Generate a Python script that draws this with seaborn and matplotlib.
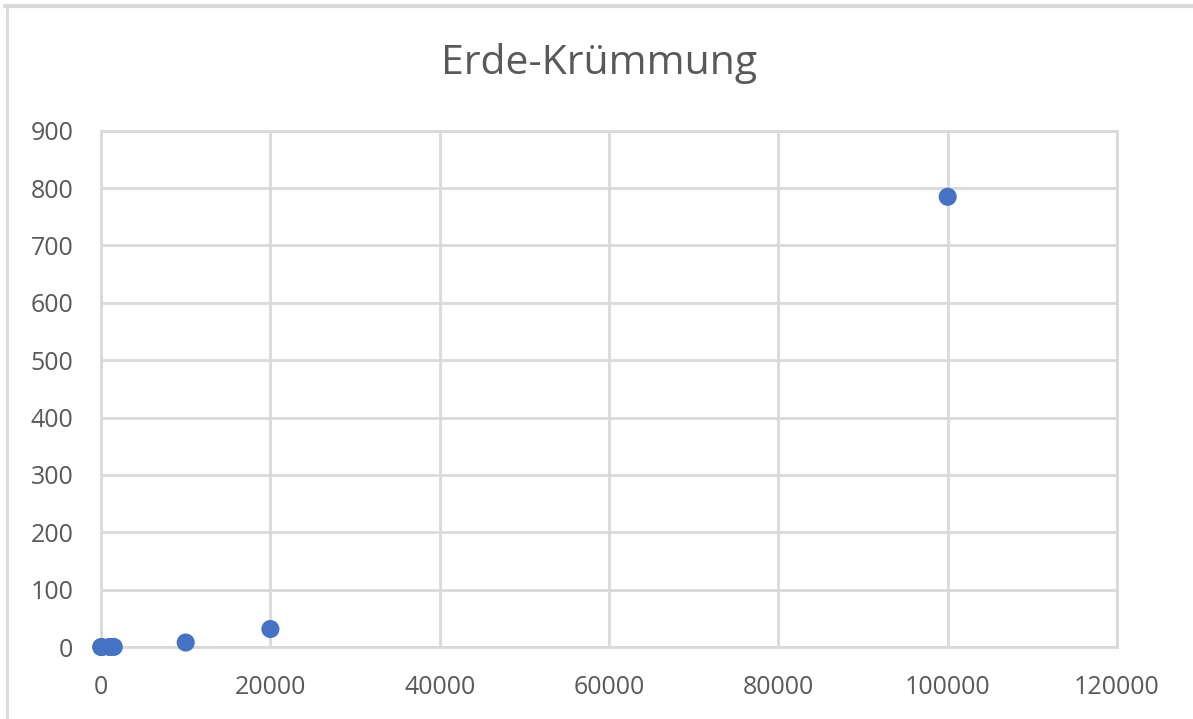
import matplotlib
matplotlib.use("Agg")
import matplotlib.pyplot as plt
from matplotlib.lines import Line2D
import seaborn as sns
import pandas as pd

# Distance along the surface (m) and drop due to curvature (m)
distance_m = [10, 100, 1000, 1500, 10000, 20000, 100000]
drop_m = [0.00001, 0.0008, 0.078, 0.18, 7.85, 31.4, 784.8]

x_ticks = [0, 20000, 40000, 60000, 80000, 100000, 120000]
y_ticks = [0, 100, 200, 300, 400, 500, 600, 700, 800, 900]
title = "Erde-Krümmung"

df = pd.DataFrame({"Entfernung": distance_m, "Absenkung": drop_m})

sns.set_theme(style="white")
plt.rcParams["font.family"] = ["Open Sans", "DejaVu Sans"]

grid_color = "#d9d9d9"
text_color = "#595959"
point_color = "#4472c4"

fig = plt.figure(figsize=(11.93, 7.19), dpi=100)
ax = fig.add_axes([0.0847, 0.1001, 0.8516, 0.7181])

sns.scatterplot(data=df, x="Entfernung", y="Absenkung", ax=ax,
                color=point_color, s=170, edgecolor="none", zorder=3,
                legend=False, clip_on=False)

ax.set_xlim(0, 120000)
ax.set_ylim(0, 900)
ax.set_xticks(x_ticks)
ax.set_yticks(y_ticks)
ax.set_xticklabels([str(v) for v in x_ticks])
ax.set_yticklabels([str(v) for v in y_ticks])
ax.grid(True, color=grid_color, linewidth=2.0)
ax.set_axisbelow(True)
for side in ["left", "right", "top", "bottom"]:
    ax.spines[side].set_color(grid_color)
    ax.spines[side].set_linewidth(2.0)
ax.tick_params(axis="both", length=0, labelsize=18, labelcolor=text_color)
ax.tick_params(axis="y", pad=20)
ax.tick_params(axis="x", pad=20)
ax.set_xlabel("")
ax.set_ylabel("")

fig.text(0.5025, 0.912, title, ha="center", va="center",
         fontsize=29.5, color=text_color)

# Chart-area frame along the top and left edges
fig.add_artist(Line2D([0.004, 1.0], [0.991, 0.991], transform=fig.transFigure,
                      color=grid_color, linewidth=3))
fig.add_artist(Line2D([0.006, 0.006], [0.0, 0.993], transform=fig.transFigure,
                      color=grid_color, linewidth=2))

fig.savefig("out.png", dpi=100)
